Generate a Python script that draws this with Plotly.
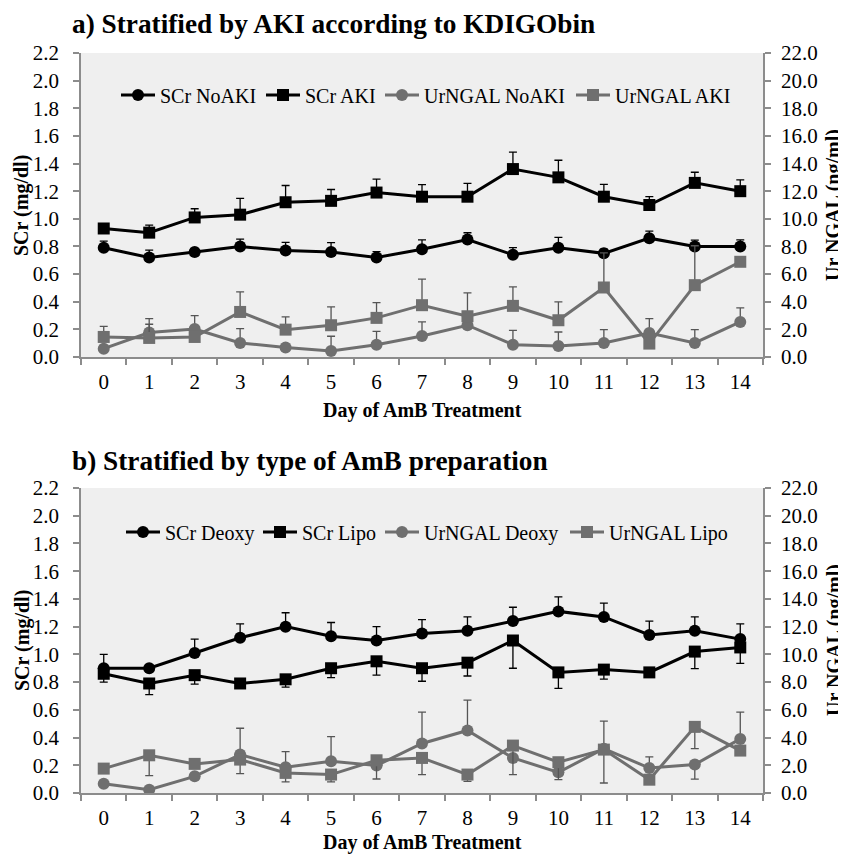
import plotly.graph_objects as go

days = list(range(15))
tick_labels = [str(d) for d in days]

# Panel a) stratified by AKI
scr_noaki = [0.79, 0.72, 0.76, 0.80, 0.77, 0.76, 0.72, 0.78, 0.85, 0.74, 0.79, 0.75, 0.86, 0.80, 0.80]
scr_noaki_err = [0.048, 0.054, 0.02, 0.053, 0.06, 0.068, 0.043, 0.068, 0.049, 0.051, 0.075, 0.03, 0.051, 0.046, 0.048]
scr_aki = [0.93, 0.90, 1.01, 1.03, 1.12, 1.13, 1.19, 1.16, 1.16, 1.36, 1.30, 1.16, 1.10, 1.26, 1.20]
scr_aki_err = [0.02, 0.055, 0.063, 0.118, 0.121, 0.082, 0.097, 0.087, 0.096, 0.123, 0.124, 0.089, 0.06, 0.077, 0.082]
ngal_noaki = [0.60, 1.77, 2.03, 1.02, 0.68, 0.44, 0.89, 1.52, 2.30, 0.89, 0.80, 1.02, 1.74, 1.02, 2.54]
ngal_noaki_err = [0.0, 1.01, 0.96, 1.04, 0.0, 1.06, 0.97, 1.02, 0.0, 1.04, 1.01, 0.96, 1.04, 0.96, 1.01]
ngal_aki = [1.45, 1.38, 1.45, 3.26, 1.98, 2.30, 2.83, 3.75, 2.95, 3.70, 2.66, 5.03, 0.97, 5.20, 6.89]
ngal_aki_err = [0.77, 0.99, 0.0, 1.45, 0.92, 1.33, 1.11, 1.88, 1.69, 1.38, 1.33, 2.51, 0.0, 2.85, 0.0]

# Panel b) stratified by AmB preparation
scr_deoxy = [0.90, 0.90, 1.01, 1.12, 1.20, 1.13, 1.10, 1.15, 1.17, 1.24, 1.31, 1.27, 1.14, 1.17, 1.11]
scr_deoxy_err = [0.10, 0.0, 0.10, 0.10, 0.10, 0.10, 0.10, 0.10, 0.10, 0.10, 0.105, 0.10, 0.10, 0.10, 0.11]
scr_lipo = [0.86, 0.79, 0.85, 0.79, 0.82, 0.90, 0.95, 0.90, 0.94, 1.10, 0.87, 0.89, 0.87, 1.02, 1.05]
scr_lipo_err = [0.06, 0.08, 0.065, 0.02, 0.057, 0.068, 0.10, 0.094, 0.096, 0.20, 0.116, 0.068, 0.0, 0.123, 0.115]
ngal_deoxy = [0.67, 0.24, 1.20, 2.77, 1.86, 2.29, 1.98, 3.57, 4.51, 2.53, 1.49, 3.20, 1.80, 2.05, 3.90]
ngal_deoxy_err_plus = [0, 0, 0, 1.90, 1.13, 1.78, 0, 2.26, 2.19, 0, 0, 1.98, 0.80, 0, 1.93]
ngal_deoxy_err_minus = [0, 0, 0, 0, 0, 0, 0, 0, 0, 0, 0, 0, 0, 1.05, 0]
ngal_lipo = [1.76, 2.72, 2.10, 2.41, 1.45, 1.33, 2.36, 2.53, 1.33, 3.42, 2.22, 3.13, 0.96, 4.77, 3.06]
ngal_lipo_err = [0, 1.47, 0, 1.01, 0.65, 0.53, 1.35, 1.20, 0.49, 2.09, 1.26, 2.41, 0, 1.57, 0]

FONT = "Liberation Serif"
BLACK = "#000000"
GREY = "#6f6f6f"
EGREY = "#555555"
AXC = "#8c8c8c"
W, H = 846, 857
OFF = 8  # page body margin offset

L, R = 81 - OFF, 763 - OFF


def px(x):
    return (x - OFF - L) / (R - L)


def py(y):
    return 1 - (y - OFF) / H


def tr(name, y, plus, minus, color, symbol, xa, ya, legend, ecolor):
    return go.Scatter(
        x=days, y=y, name=name, mode="lines+markers",
        line=dict(color=color, width=3),
        marker=dict(symbol=symbol, size=12, color=color),
        error_y=dict(type="data", symmetric=False, array=plus, arrayminus=minus,
                     color=ecolor, thickness=1.3, width=4),
        xaxis=xa, yaxis=ya, legend=legend,
    )

zeros = [0] * 15
fig = go.Figure()
fig.add_trace(tr("SCr NoAKI", scr_noaki, scr_noaki_err, zeros, BLACK, "circle", "x", "y", "legend", BLACK))
fig.add_trace(tr("SCr AKI", scr_aki, scr_aki_err, zeros, BLACK, "square", "x", "y", "legend2", BLACK))
fig.add_trace(tr("UrNGAL NoAKI", ngal_noaki, ngal_noaki_err, zeros, GREY, "circle", "x", "y2", "legend3", EGREY))
fig.add_trace(tr("UrNGAL AKI", ngal_aki, ngal_aki_err, zeros, GREY, "square", "x", "y2", "legend4", EGREY))

fig.add_trace(tr("SCr Deoxy", scr_deoxy, scr_deoxy_err, zeros, BLACK, "circle", "x2", "y3", "legend5", BLACK))
fig.add_trace(tr("SCr Lipo", scr_lipo, zeros, scr_lipo_err, BLACK, "square", "x2", "y3", "legend6", BLACK))
fig.add_trace(tr("UrNGAL Deoxy", ngal_deoxy, ngal_deoxy_err_plus, ngal_deoxy_err_minus, GREY, "circle", "x2", "y4", "legend7", EGREY))
fig.add_trace(tr("UrNGAL Lipo", ngal_lipo, zeros, ngal_lipo_err, GREY, "square", "x2", "y4", "legend8", EGREY))

top_dom = [py(357), py(53)]
bot_dom = [py(793), py(488)]

tickfont = dict(family=FONT, size=21, color="#000")


def xax(anchor):
    return dict(
        domain=[0, 1], anchor=anchor, range=[-0.5, 14.5], automargin=False,
        tickmode="array", tickvals=days, ticktext=tick_labels, ticks="",
        tickfont=tickfont, showline=True, linecolor=AXC, linewidth=1.5,
        showgrid=False, zeroline=False, ticklabelstandoff=5,
        minor=dict(tickmode="array", tickvals=[d - 0.5 for d in days] + [14.5],
                   ticks="outside", ticklen=6, tickcolor=AXC, tickwidth=1.5, showgrid=False),
    )


def yl(dom, anchor):
    return dict(domain=dom, anchor=anchor, range=[0, 2.2], dtick=0.2, tick0=0, automargin=False,
                tickformat=".1f", ticks="outside", ticklen=6, tickcolor=AXC, tickwidth=1.5,
                showline=True, linecolor=AXC, linewidth=1.5, showgrid=False, zeroline=False,
                tickfont=tickfont, ticklabelstandoff=10)


def yr(over, anchor):
    return dict(overlaying=over, anchor=anchor, side="right", range=[0, 22], dtick=2, tick0=0,
                automargin=False,
                tickformat=".1f", ticks="outside", ticklen=6, tickcolor=AXC, tickwidth=1.5,
                showline=True, linecolor=AXC, linewidth=1.5, showgrid=False, zeroline=False,
                tickfont=tickfont, ticklabelstandoff=6)


legfont = dict(family=FONT, size=20, color="#000")


def leg(xpage, ypage):
    return dict(orientation="h", x=px(xpage), xanchor="left", y=py(ypage), yanchor="middle",
                font=legfont, bgcolor="rgba(0,0,0,0)", itemwidth=34, tracegroupgap=0)


fig.update_layout(
    width=W, height=H,
    margin=dict(l=L, r=W - R, t=0, b=0, autoexpand=False),
    paper_bgcolor="white", plot_bgcolor="#efefef",
    font=dict(family=FONT, color="#000"),
    xaxis=xax("y"), yaxis=yl(top_dom, "x"), yaxis2=yr("y", "x"),
    xaxis2=xax("y3"), yaxis3=yl(bot_dom, "x2"), yaxis4=yr("y3", "x2"),
    legend=leg(116, 95), legend2=leg(261, 95), legend3=leg(380, 95), legend4=leg(571, 95),
    legend5=leg(121, 532), legend6=leg(258, 532), legend7=leg(380, 532), legend8=leg(565, 532),
    showlegend=True,
)

bold = dict(family=FONT, size=20, color="#000")
title_font = dict(family=FONT, size=27.3, color="#000")
ann = [
    dict(text="<b>a) Stratified by AKI according to KDIGObin</b>", x=px(70), y=py(24), font=title_font),
    dict(text="<b>b) Stratified by type of AmB preparation</b>", x=px(70), y=py(461), font=title_font),
]
for a in ann:
    a.update(xref="paper", yref="paper", xanchor="left", yanchor="middle", showarrow=False)
for yc in [410, 842]:
    ann.append(dict(text="<b>Day of AmB Treatment</b>", x=px(422), y=py(yc),
                    xref="paper", yref="paper", showarrow=False, font=bold,
                    xanchor="center", yanchor="middle"))
for yc in [205, 640]:
    ann.append(dict(text="<b>SCr (mg/dl)</b>", x=px(22), y=py(yc), textangle=-90,
                    xref="paper", yref="paper", showarrow=False, font=bold,
                    xanchor="center", yanchor="middle"))
    ann.append(dict(text="<b>Ur NGAL (ng/ml)</b>", x=px(834), y=py(yc), textangle=-90,
                    xref="paper", yref="paper", showarrow=False, font=bold,
                    xanchor="center", yanchor="middle"))
fig.update_layout(annotations=ann)

fig.write_html("out.html")
